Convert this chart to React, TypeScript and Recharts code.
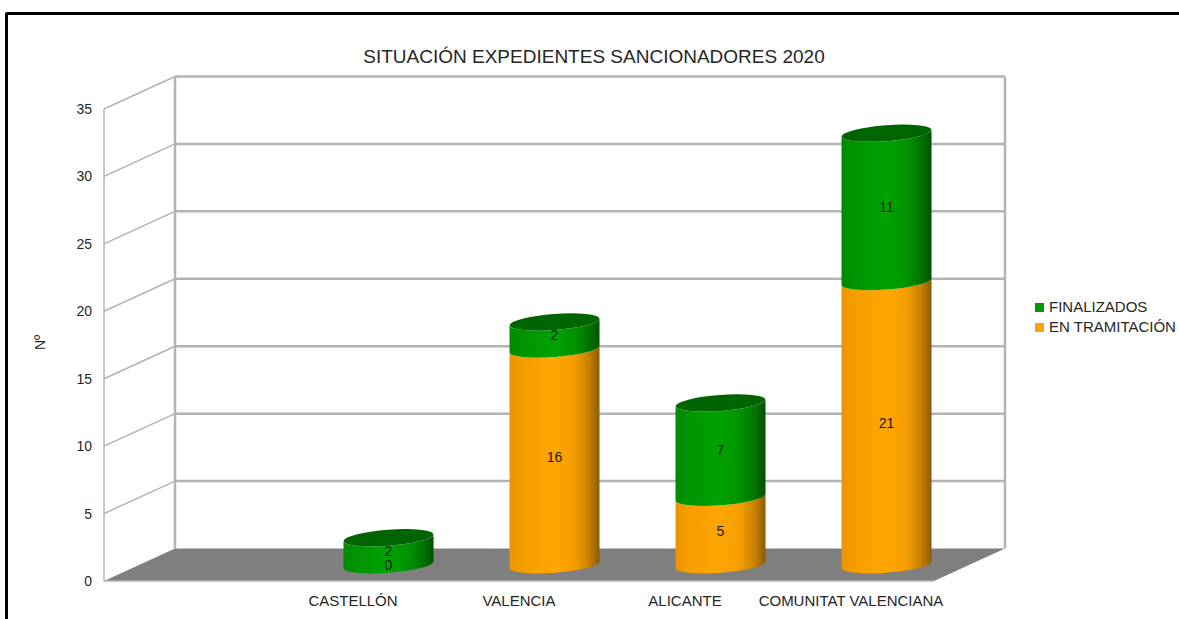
import { BarChart, Bar, XAxis, YAxis, CartesianGrid, LabelList, Legend, ReferenceArea } from 'recharts';

const CATEGORIES = ['', 'CASTELLÓN', 'VALENCIA', 'ALICANTE', 'COMUNITAT VALENCIANA'];
const EN_TRAMITACION = [null, 0, 16, 5, 21];
const FINALIZADOS = [null, 2, 2, 7, 11];
const Y_TICKS = [0, 5, 10, 15, 20, 25, 30, 35];

const data = CATEGORIES.map((name, i) => ({
  name,
  tramitacion: EN_TRAMITACION[i],
  finalizados: FINALIZADOS[i],
}));

const FONT = '"Liberation Sans", Arial, sans-serif';
const TEXT = '#262626';
const GRID = '#b3b3b3';
// fake 3D depth of the plot box
const DX = 71;
const DY = 32.5;

function Box({ x, y, width, height }: any) {
  const bottom = y + height;
  const right = x + width;
  return (
    <g>
      <polygon
        points={`${x},${bottom} ${x + DX},${bottom - DY} ${right + DX},${bottom - DY} ${right},${bottom}`}
        fill="#7f7f7f"
      />
      <line x1={x} y1={y} x2={x} y2={bottom} stroke={GRID} strokeWidth={1.5} />
      <line x1={x + DX} y1={y - DY} x2={x + DX} y2={bottom - DY} stroke={GRID} strokeWidth={2.5} />
      <line x1={right + DX} y1={y - DY} x2={right + DX} y2={bottom - DY} stroke={GRID} strokeWidth={2.5} />
      <line x1={x} y1={bottom} x2={right} y2={bottom} stroke={GRID} strokeWidth={1.5} />
    </g>
  );
}

function gridLine({ x1, y1, x2, index }: any) {
  return (
    <g key={index}>
      <line x1={x1} y1={y1} x2={x1 + DX} y2={y1 - DY} stroke={GRID} strokeWidth={1.5} />
      <line x1={x1 + DX} y1={y1 - DY} x2={x2 + DX} y2={y1 - DY} stroke={GRID} strokeWidth={2.5} />
    </g>
  );
}

function Cylinder({ x, y, width, height, fill, cap, payload, dataKey }: any) {
  if (x == null || y == null || payload?.[dataKey] == null) return null;
  const rx = width / 2;
  const tilt = 3.4;
  const ry = 8;
  const left = x + DX / 2;
  const right = left + width;
  const top = y - DY / 2;
  const bot = top + height;
  const arc = `A ${rx} ${ry} -4.3 0 0`;
  const arcBack = `A ${rx} ${ry} -4.3 0 1`;
  return (
    <g>
      <path
        d={`M ${left} ${top + tilt} L ${left} ${bot + tilt} ${arc} ${right} ${bot - tilt} L ${right} ${top - tilt} ${arcBack} ${left} ${top + tilt} Z`}
        fill={fill}
      />
      {cap && (
        <ellipse
          cx={(left + right) / 2}
          cy={top}
          rx={rx}
          ry={ry}
          transform={`rotate(-4.3 ${(left + right) / 2} ${top})`}
          fill={cap}
        />
      )}
    </g>
  );
}

function BarValue({ x, y, width, height, value }: any) {
  if (value == null) return null;
  return (
    <text
      x={x + width / 2 + DX / 2}
      y={y + height / 2 - DY / 2}
      textAnchor="middle"
      dominantBaseline="central"
      fontSize={14}
      fontFamily={FONT}
      fill="#1a1a1a"
    >
      {value}
    </text>
  );
}

function LegendBox() {
  const rows = [
    { label: 'FINALIZADOS', color: '#009900' },
    { label: 'EN TRAMITACIÓN', color: '#ffa500' },
  ];
  return (
    <div style={{ fontFamily: FONT, fontSize: 15, color: TEXT }}>
      {rows.map((r) => (
        <div key={r.label} style={{ height: 20, lineHeight: '20px', whiteSpace: 'nowrap', display: 'flex', alignItems: 'center' }}>
          <span style={{ width: 9, height: 9, background: r.color, marginRight: 5, display: 'inline-block' }} />
          {r.label}
        </div>
      ))}
    </div>
  );
}

export default function App() {
  return (
    <div style={{ position: 'absolute', left: 0, top: 0, width: 1179, height: 619, background: '#fff', overflow: 'hidden' }}>
      <BarChart
        width={1179}
        height={619}
        data={data}
        margin={{ top: 109, right: 245, bottom: 0, left: 34 }}
        barSize={90}
      >
        <CartesianGrid vertical={false} horizontalValues={Y_TICKS.slice(1)} horizontal={gridLine} />
        <XAxis
          dataKey="name"
          interval={0}
          axisLine={false}
          tickLine={false}
          tickMargin={8}
          height={38}
          tick={{ fontSize: 15, fontFamily: FONT, fill: TEXT }}
        />
        <YAxis
          domain={[0, 35]}
          ticks={Y_TICKS}
          width={70}
          axisLine={false}
          tickLine={false}
          tickMargin={6}
          tick={{ fontSize: 14, fontFamily: FONT, fill: TEXT }}
          label={{ value: 'Nº', angle: -90, position: 'insideLeft', offset: 6, dy: 5, fontSize: 14, fontFamily: FONT, fill: TEXT }}
        />
        <ReferenceArea y1={0} y2={35} shape={<Box />} fill="none" stroke="none" />
        <Legend
          layout="horizontal"
          align="center"
          verticalAlign="middle"
          content={<LegendBox />}
          wrapperStyle={{ left: 1035, top: 297, width: 144 }}
        />
        <defs>
          <linearGradient id="orangeBody" x1="0" y1="0" x2="1" y2="0">
            <stop offset="0" stopColor="#ea9500" />
            <stop offset="0.12" stopColor="#f59d00" />
            <stop offset="0.5" stopColor="#ffa600" />
            <stop offset="0.72" stopColor="#f49d00" />
            <stop offset="0.88" stopColor="#c98200" />
            <stop offset="1" stopColor="#8c5a00" />
          </linearGradient>
          <linearGradient id="greenBody" x1="0" y1="0" x2="1" y2="0">
            <stop offset="0" stopColor="#008a00" />
            <stop offset="0.12" stopColor="#009300" />
            <stop offset="0.5" stopColor="#00a200" />
            <stop offset="0.72" stopColor="#009300" />
            <stop offset="0.88" stopColor="#007400" />
            <stop offset="1" stopColor="#005000" />
          </linearGradient>
        </defs>
        <Bar
          dataKey="tramitacion"
          name="EN TRAMITACIÓN"
          stackId="a"
          fill="#ffa500"
          isAnimationActive={false}
          shape={(p: any) => <Cylinder {...p} dataKey="tramitacion" fill="url(#orangeBody)" />}
        >
          <LabelList dataKey="tramitacion" content={<BarValue />} />
        </Bar>
        <Bar
          dataKey="finalizados"
          name="FINALIZADOS"
          stackId="a"
          fill="#009900"
          isAnimationActive={false}
          shape={(p: any) => <Cylinder {...p} dataKey="finalizados" fill="url(#greenBody)" cap="#006400" />}
        >
          <LabelList dataKey="finalizados" content={<BarValue />} />
        </Bar>
      </BarChart>
      <div
        style={{
          position: 'absolute',
          left: 0,
          right: 0,
          top: 46,
          textAlign: 'center',
          paddingLeft: 9,
          fontFamily: FONT,
          fontSize: 19,
          color: TEXT,
          whiteSpace: 'nowrap',
        }}
      >
        SITUACIÓN EXPEDIENTES SANCIONADORES 2020
      </div>
      <div
        style={{
          position: 'absolute',
          left: 5,
          top: 12,
          width: 1200,
          height: 700,
          border: '3px solid #000',
          borderRadius: 2,
          pointerEvents: 'none',
        }}
      />
    </div>
  );
}
